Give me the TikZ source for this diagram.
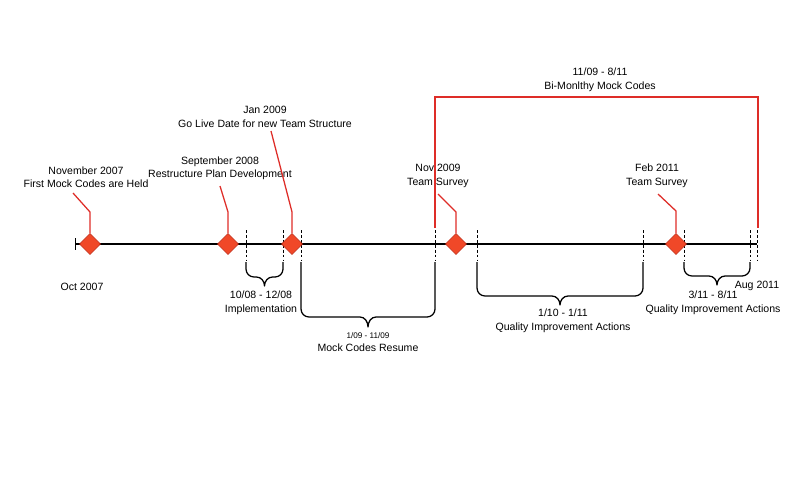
\documentclass[tikz,border=0pt]{standalone}
\usepackage{fontspec}
\setmainfont{Liberation Sans}
\usetikzlibrary{shapes.geometric}
\definecolor{leadred}{RGB}{222,45,40}
\definecolor{mfill}{RGB}{240,72,40}
\definecolor{mline}{RGB}{190,42,22}
\newcommand{\spanbrace}[4]{% left, right, bottom, tip
  \pgfmathsetmacro{\bmid}{(#1+#2)/2}
  \draw[bracel] (#1,262) -- (#1,{#3-8}) to[out=-90,in=180] ({#1+8},#3) -- ({\bmid-8},#3)
    to[out=0,in=90] (\bmid,#4) to[out=90,in=180] ({\bmid+8},#3) -- ({#2-8},#3)
    to[out=0,in=-90] (#2,{#3-8}) -- (#2,262);}
\begin{document}
\begin{tikzpicture}[x=0.025cm,y=-0.025cm,
	lbl/.style={font=\fontsize{7.5}{9.6}\selectfont,align=center,inner sep=0pt},
	mile/.style={diamond,draw=mline,fill=mfill,line width=0.4pt,minimum size=15,inner sep=0pt},
	leader/.style={leadred,line width=0.9pt},
	tickd/.style={dashed,dash pattern=on 2pt off 1.5pt,line width=0.5pt},
	bracel/.style={line width=0.9pt,line join=round}]
	\useasboundingbox (0,0) rectangle (800,480);
	% time axis
	\draw[line width=2pt] (75,244)--(757,244);
	\draw[line width=0.7pt] (75,238)--(75,250);
	\node[lbl] (start) at (82,287) {Oct 2007};
	\node[lbl] (end) at (757,286) {Aug 2011};
	% dashed span markers
	\foreach \t in {246,283,301,435,477,643,684,750,757}
		\draw[tickd] (\t,230)--(\t,260);
	% bi-monthly span
	\draw[leader] (435,228)--(435,97)--(758,97)--(758,228);
	\node[lbl] (bimon) at (600,80) {11/09 - 8/11\\Bi-Monlthy Mock Codes};
	% milestones
	\node[mile] (m1) at (90,244) {};
	\node[mile] (m2) at (228,244) {};
	\node[mile] (m3) at (292,244) {};
	\node[mile] (m4) at (456,244) {};
	\node[mile] (m5) at (676,244) {};
	\node[lbl] (t1) at (86,177) {November 2007\\First Mock Codes are Held};
	\node[lbl] (t2) at (220,168.5) {September 2008\\Restructure Plan Development};
	\node[lbl] (t3) at (265,117) {Jan 2009\\Go Live Date for new Team Structure};
	\node[lbl] (t4) at (438,176) {Nov 2009\\Team Survey};
	\node[lbl] (t5) at (657,176) {Feb 2011\\Team Survey};
	\draw[leader] (m1.north)--(90,212)--(73,193);
	\draw[leader] (m2.north)--(228,212)--(220,186);
	\draw[leader] (m3.north)--(292,212)--(271,131);
	\draw[leader] (m4.north)--(456,212)--(438,194);
	\draw[leader] (m5.north)--(676,211)--(658,194);
	% braces under the axis
	\spanbrace{246}{283}{277}{286}
	\spanbrace{301}{435}{317}{327}
	\spanbrace{477}{643}{296}{305}
	\spanbrace{684}{750}{276}{285}
	\node[lbl] (impl) at (261,303) {10/08 - 12/08\\Implementation};
	\node[lbl] (res) at (368,342) {{\fontsize{5.8}{8}\selectfont 1/09 - 11/09}\\Mock Codes Resume};
	\node[lbl] (qi1) at (563,321) {1/10 - 1/11\\Quality Improvement Actions};
	\node[lbl] (qi2) at (713,303) {3/11 - 8/11\\Quality Improvement Actions};
\end{tikzpicture}
\end{document}
